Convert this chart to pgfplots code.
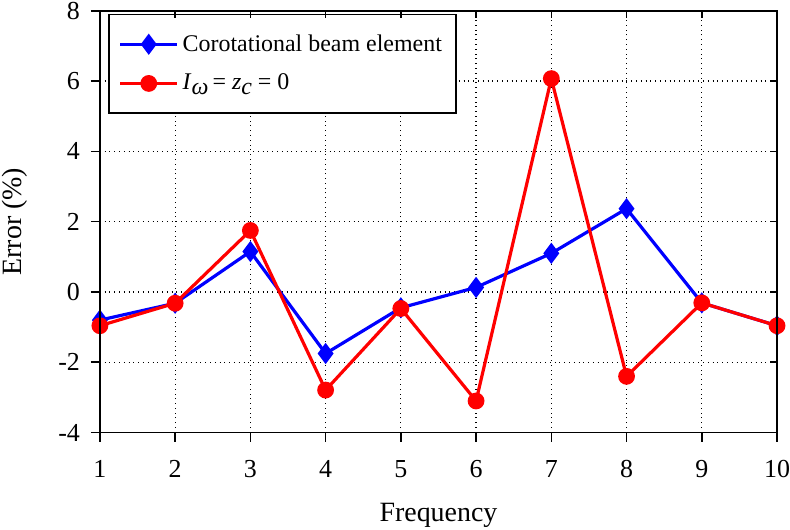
\documentclass[border=0pt]{standalone}
\usepackage{pgfplots}
\pgfplotsset{compat=1.18}
\usepackage{fontspec}
\setmainfont{Liberation Serif}
\begin{document}
\begin{tikzpicture}
\pgfplotsset{
  common/.style={
    scale only axis,
    width=339.5pt, height=211.5pt,
    xmin=1, xmax=10, ymin=-4, ymax=8,
    xtick={1,...,10}, ytick={-4,-2,0,2,4,6,8},
    axis line style={black, line width=0.8pt},
    tick style={black, line width=0.8pt},
  }
}
\begin{axis}[
  common,
  xticklabels={1,2,3,4,5,6,7,8,9,10},
  yticklabels={-4,-2,0,2,4,6,8},
  xtick pos=left, ytick pos=left,
  tick align=outside,
  major tick length=4.5pt,
  grid=major,
  grid style={black, dotted, line width=0.6pt},
  ticklabel style={font=\fontsize{13}{15}\selectfont},
  xticklabel style={yshift=-6pt, inner xsep=0pt},
  yticklabel style={xshift=-2pt, inner ysep=1pt},
  xlabel={Frequency}, ylabel={Error (\%)},
  label style={font=\fontsize{14}{16}\selectfont},
  xlabel style={yshift=-8pt, inner ysep=1pt},
  ylabel style={yshift=11pt, inner ysep=1pt},
  legend style={at={(0.012,0.993)}, anchor=north west, draw=black, line width=0.8pt,
    font=\fontsize{12}{14}\selectfont, inner xsep=5pt, inner ysep=8pt, row sep=6pt,
    cells={anchor=west}},
  legend image code/.code={\draw[#1] (0cm,0cm) -- (1cm,0cm); \draw[#1, mark repeat=2, mark phase=2] plot coordinates {(0cm,0cm) (0.5cm,0cm) (1cm,0cm)};},
]
\addplot[blue, line width=1.6pt, mark=diamond*, mark size=4pt, mark options={fill=blue, solid}]
coordinates {(1,-0.8) (2,-0.32) (3,1.15) (4,-1.75) (5,-0.45) (6,0.13) (7,1.1) (8,2.37) (9,-0.31) (10,-0.96)};
\addlegendentry{Corotational beam element}
\addplot[red, line width=1.6pt, mark=*, mark size=3.4pt, mark options={fill=red, solid}]
coordinates {(1,-0.96) (2,-0.32) (3,1.75) (4,-2.79) (5,-0.47) (6,-3.1) (7,6.07) (8,-2.4) (9,-0.31) (10,-0.96)};
\addlegendentry{\textit{I}\raisebox{-0.45ex}{\textit{ω}}\,= \textit{z}\raisebox{-0.45ex}{\textit{c}} = 0}
\end{axis}
\begin{scope}[overlay]
\begin{axis}[
  common,
  xtick pos=right, ytick pos=right,
  tick align=inside,
  major tick length=3.5pt,
  xticklabels={}, yticklabels={},
]
\end{axis}
\end{scope}
\end{tikzpicture}
\end{document}
